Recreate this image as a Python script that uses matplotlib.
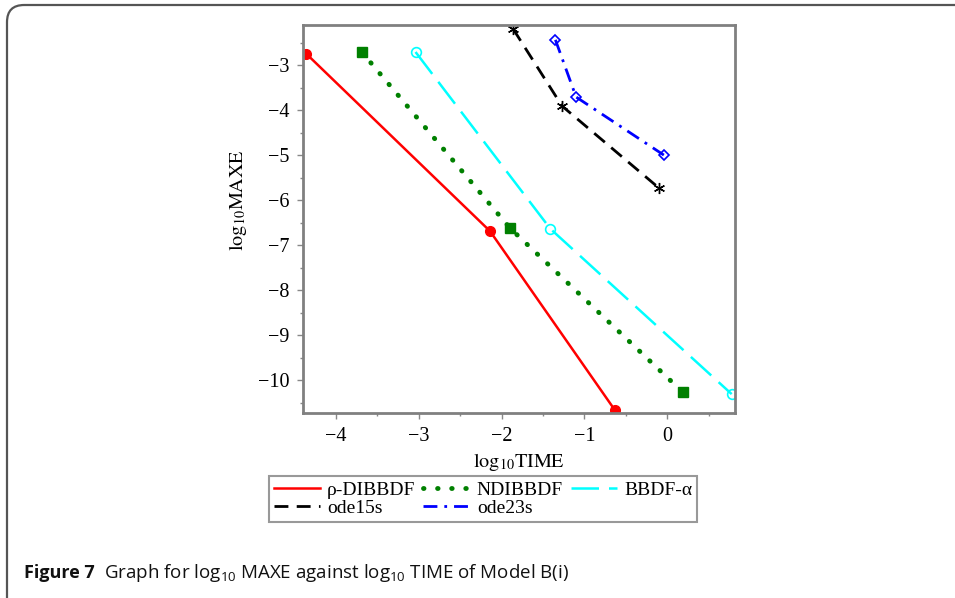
import matplotlib
matplotlib.use("Agg")
import matplotlib.pyplot as plt
from matplotlib.patches import FancyBboxPatch
from matplotlib.ticker import MultipleLocator

# log10 TIME / log10 MAXE for each method
rho_x = [-4.36, -2.14, -0.63]
rho_y = [-2.75, -6.69, -10.67]
nd_x = [-3.69, -1.90, 0.19]
nd_y = [-2.71, -6.62, -10.27]
bbdf_x = [-3.04, -1.41, 0.78]
bbdf_y = [-2.71, -6.64, -10.31]
o15_x = [-1.86, -1.27, -0.10]
o15_y = [-2.20, -3.91, -5.73]
o23_x = [-1.35, -1.10, -0.04]
o23_y = [-2.44, -3.71, -5.00]

xticks = [-4, -3, -2, -1, 0]
yticks = [-3, -4, -5, -6, -7, -8, -9, -10]

plt.rcParams['font.family'] = ['Liberation Serif', 'DejaVu Serif']

fig = plt.figure(figsize=(9.55, 5.98), dpi=100)

# rounded outer frame of the figure panel
frame = FancyBboxPatch((7 / 955, -0.05), 1.2, 1.05 - 5 / 598,
                       boxstyle="round,pad=0,rounding_size=0.018",
                       transform=fig.transFigure, fill=False,
                       edgecolor='#555555', linewidth=1.6, mutation_aspect=955 / 598)
fig.patches.append(frame)

ax = fig.add_axes([303 / 955, 1 - 413 / 598, 432 / 955, 388 / 598])

l1, = ax.plot(rho_x, rho_y, color='red', lw=1.8, marker='o', ms=7, label='ρ-DIBBDF')
l2, = ax.plot(nd_x, nd_y, color='green', lw=3.5, ls=(0, (0.1, 2.8)), marker='s', ms=7,
              dash_capstyle='round', label='NDIBBDF')
l3, = ax.plot(bbdf_x, bbdf_y, color='cyan', lw=1.8, ls=(0, (11, 4)), marker='o', ms=7,
              mfc='none', mew=1.2, label='BBDF-α')
l4, = ax.plot(o15_x, o15_y, color='black', lw=2, ls=(0, (5, 3)), marker=(6, 2, 0), ms=8,
              mew=1.0, label='ode15s')
l5, = ax.plot(o23_x, o23_y, color='blue', lw=2, ls=(0, (5, 2.5, 1, 2.5)), marker='D', ms=5,
              mfc='none', mew=1.2, label='ode23s')

ax.set_xlim(-4.40, 0.82)
ax.set_ylim(-10.73, -2.11)
ax.set_xticks(xticks)
ax.set_yticks(yticks)
ax.set_xticklabels(['\u2212%d' % abs(t) if t < 0 else str(t) for t in xticks])
ax.set_yticklabels(['\u2212%d' % abs(t) for t in yticks])
ax.xaxis.set_minor_locator(MultipleLocator(0.5))
ax.yaxis.set_minor_locator(MultipleLocator(0.5))
ax.tick_params(which='major', length=4, width=1, color='#888888', labelsize=14.5, pad=6)
ax.tick_params(which='minor', length=2, width=1, color='#888888')
for s in ax.spines.values():
    s.set_color('#808080')
    s.set_linewidth(2)

ax.set_xlabel(r'$\mathrm{log_{10}TIME}$', fontsize=14.5, math_fontfamily='stix', labelpad=4)
ax.set_ylabel(r'$\mathrm{log_{10}MAXE}$', fontsize=14.5, math_fontfamily='stix')
ax.yaxis.set_label_coords(-0.125, 0.55)

leg = fig.legend([l1, l4, l2, l5, l3], ['ρ-DIBBDF', 'ode15s', 'NDIBBDF', 'ode23s', 'BBDF-α'],
                 ncol=3, loc='center', bbox_to_anchor=(483 / 955, 1 - 499 / 598),
                 fontsize=14, frameon=True, fancybox=False, handlelength=2.4,
                 handletextpad=0.35, columnspacing=0.4, labelspacing=0.05,
                 borderpad=0.25, borderaxespad=0)
leg.get_frame().set_edgecolor('#808080')
leg.get_frame().set_linewidth(1.5)
for h in leg.legend_handles:
    h.set_marker('')

# caption
cap_font = ['Open Sans', 'DejaVu Sans']
t1 = fig.text(24 / 955, 1 - 578 / 598, 'Figure 7', fontsize=13, fontweight='bold',
              family=cap_font, va='baseline', color='#111111')
fig.canvas.draw()
bb = t1.get_window_extent()
fig.text((bb.x1 + 9) / 955, 1 - 578 / 598,
         r'Graph for $\mathregular{log_{10}}$ MAXE against $\mathregular{log_{10}}$ TIME of Model B(i)',
         fontsize=13.5, family=cap_font, va='baseline', color='#111111')

fig.savefig('out.png', dpi=100)
